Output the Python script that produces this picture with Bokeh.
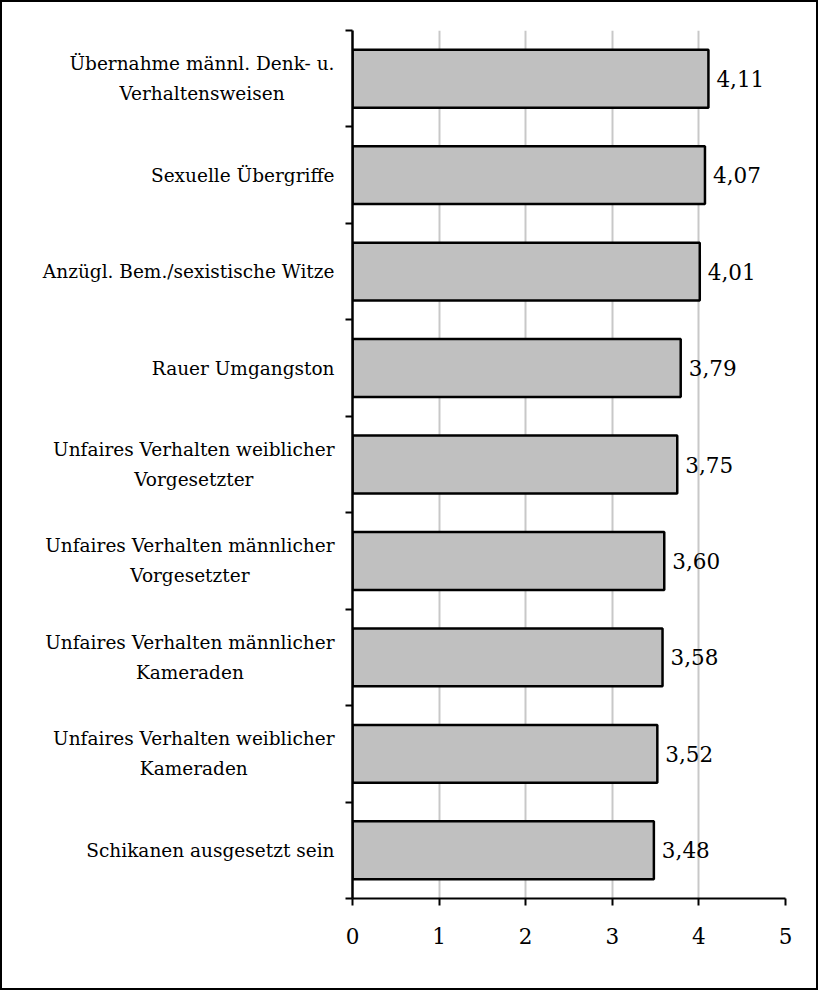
from bokeh.plotting import figure
from bokeh.layouts import row
from bokeh.models import ColumnDataSource, FixedTicker, Range1d
from bokeh.core.properties import value
from bokeh.embed import file_html
from bokeh.resources import INLINE

categories = [
    "Übernahme männl. Denk- u.\nVerhaltensweisen",
    "Sexuelle Übergriffe",
    "Anzügl. Bem./sexistische Witze",
    "Rauer Umgangston",
    "Unfaires Verhalten weiblicher\nVorgesetzter",
    "Unfaires Verhalten männlicher\nVorgesetzter",
    "Unfaires Verhalten männlicher\nKameraden",
    "Unfaires Verhalten weiblicher\nKameraden",
    "Schikanen ausgesetzt sein",
]
values = [4.11, 4.07, 4.01, 3.79, 3.75, 3.60, 3.58, 3.52, 3.48]
x_ticks = [0, 1, 2, 3, 4, 5]

FONT = "'DejaVu Serif', serif"
CAT_SIZE = 18.5
NUM_SIZE = 21.5
n = len(categories)
ypos = [n - i - 0.5 for i in range(n)]
labels = [f"{v:.2f}".replace(".", ",") for v in values]


def _approx_width(s, size):
    w = 0.0
    for ch in s:
        if ch in "il.,;:'|!j ":
            w += 0.32
        elif ch in "ftr-/":
            w += 0.42
        elif ch in "mw":
            w += 0.9
        elif ch.isupper():
            w += 0.78
        else:
            w += 0.61
    return w * size


def text_width(s, size):
    try:
        from PIL import ImageFont
        for path in ["DejaVuSerif.ttf",
                     "/usr/share/fonts/truetype/dejavu/DejaVuSerif.ttf",
                     "/usr/share/fonts/dejavu/DejaVuSerif.ttf",
                     "/usr/share/fonts/TTF/DejaVuSerif.ttf",
                     "/usr/share/fonts/dejavu-serif-fonts/DejaVuSerif.ttf"]:
            try:
                f = ImageFont.truetype(path, int(round(size * 4)))
                return f.getlength(s) / 4.0
            except Exception:
                continue
    except Exception:
        pass
    return _approx_width(s, size)


H = 986
TOP, BOTTOM = 28, 90
WL = 335          # width of the label strip
R = 332           # right edge of the category label blocks (strip coordinates)
HALF_LINE = 15    # half line spacing of two-line labels, px

y_range = Range1d(0, n)

# ---- label strip -------------------------------------------------------
lab_x, lab_y, lab_t, lab_dy, lab_al = [], [], [], [], []
for y, cat in zip(ypos, categories):
    lines = cat.split("\n")
    if len(lines) == 1:
        lab_x.append(R); lab_y.append(y); lab_t.append(cat)
        lab_dy.append(0); lab_al.append("right")
    else:
        w = max(text_width(l, CAT_SIZE) for l in lines)
        cx = R - w / 2
        for k, l in enumerate(lines):
            lab_x.append(cx); lab_y.append(y); lab_t.append(l)
            lab_dy.append(-HALF_LINE if k == 0 else HALF_LINE)
            lab_al.append("center")

ls = figure(width=WL, height=H, output_backend="svg", toolbar_location=None,
            x_range=Range1d(0, WL), y_range=y_range,
            x_axis_location=None, y_axis_location=None,
            min_border_left=0, min_border_right=0,
            min_border_top=TOP, min_border_bottom=BOTTOM)
ls.outline_line_color = None
ls.grid.visible = False
lsrc = ColumnDataSource(dict(x=lab_x, y=lab_y, t=lab_t, dy=lab_dy, al=lab_al))
ls.text(x="x", y="y", text="t", y_offset="dy", text_align="al", source=lsrc,
        text_baseline="middle", text_font=value(FONT),
        text_font_size=f"{CAT_SIZE}px", text_color="black")

# ---- chart --------------------------------------------------------------
src = ColumnDataSource(dict(y=ypos, v=values, lab=labels))
p = figure(width=814 - WL, height=H, output_backend="svg", toolbar_location=None,
           x_range=Range1d(0, 5), y_range=y_range,
           min_border_left=15, min_border_right=31, min_border_top=TOP,
           min_border_bottom=BOTTOM)
p.outline_line_color = None

p.hbar(y="y", right="v", left=0, height=0.6, source=src,
       fill_color="#c0c0c0", line_color="black", line_width=2.5)
p.text(x="v", y="y", text="lab", source=src, x_offset=8,
       text_baseline="middle", text_align="left",
       text_font=value(FONT), text_font_size=f"{NUM_SIZE}px", text_color="black")

p.xaxis.ticker = FixedTicker(ticks=x_ticks)
p.xaxis.axis_line_width = 2
p.xaxis.axis_line_color = "black"
p.xaxis.major_tick_line_width = 2
p.xaxis.major_tick_out = 7
p.xaxis.major_tick_in = 0
p.xaxis.minor_tick_line_color = None
p.xaxis.major_label_text_font = FONT
p.xaxis.major_label_text_font_size = f"{NUM_SIZE}px"
p.xaxis.major_label_text_color = "black"
p.xaxis.major_label_standoff = 22

p.yaxis.ticker = FixedTicker(ticks=[], minor_ticks=list(range(n + 1)))
p.yaxis.axis_line_width = 2.5
p.yaxis.axis_line_color = "black"
p.yaxis.major_tick_out = 0
p.yaxis.major_label_standoff = 0
p.yaxis.minor_tick_out = 7
p.yaxis.minor_tick_in = 0
p.yaxis.minor_tick_line_width = 2
p.yaxis.minor_tick_line_color = "black"

p.xgrid.ticker = FixedTicker(ticks=x_ticks[1:])
p.xgrid.grid_line_color = "#c8c8c8"
p.xgrid.grid_line_width = 2
p.ygrid.grid_line_color = None

layout = row(ls, p)
layout.styles = {"border": "2px solid black", "background-color": "white"}

open("out.html", "w").write(file_html(layout, INLINE))
